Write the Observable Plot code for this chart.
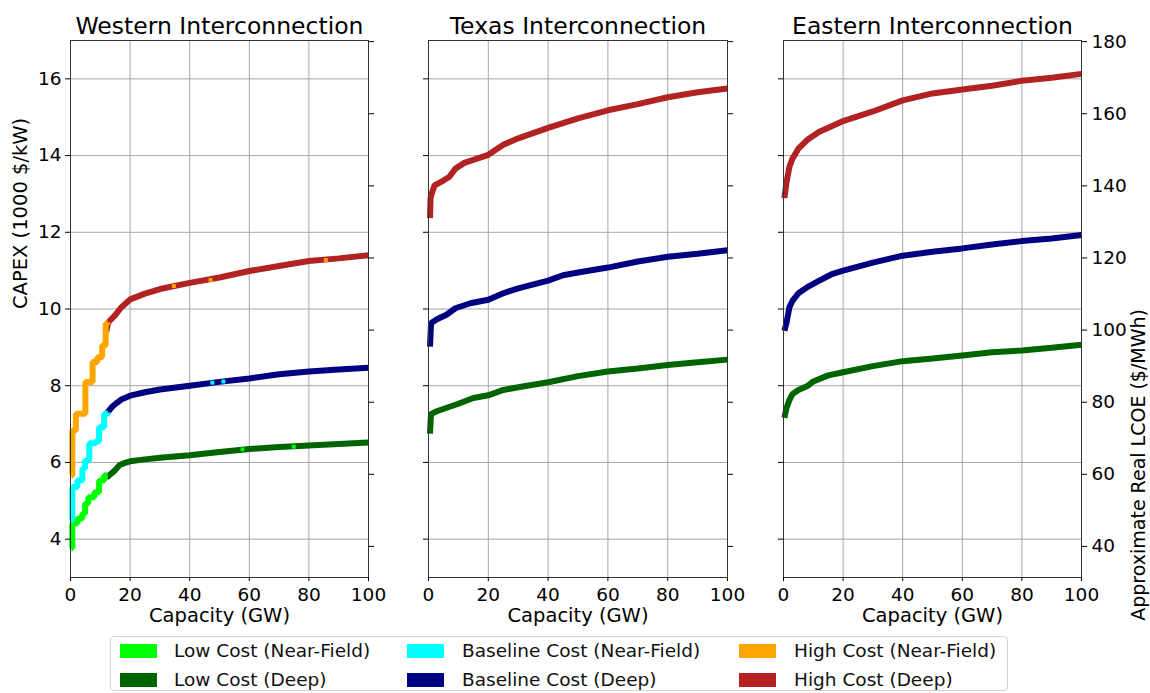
<!DOCTYPE html>
<html>
<head>
<meta charset="utf-8">
<script src="https://cdn.jsdelivr.net/npm/d3@7"></script>
<script src="https://cdn.jsdelivr.net/npm/@observablehq/plot@0.6"></script>
<style>
  html, body { margin: 0; padding: 0; background: #fff; }
  body { width: 1150px; height: 693px; position: relative; overflow: hidden; font-family: "DejaVu Sans", sans-serif; color: #000; }
  .panel { position: absolute; top: 0; }
  #legend { position: absolute; left: 110px; top: 636px; width: 898px; height: 55px; box-sizing: border-box; border: 1px solid #d4d4d4; border-radius: 4px; }
  .sw { position: absolute; width: 37px; height: 14px; }
  .lt { position: absolute; font-size: 18.5px; line-height: 22px; white-space: nowrap; color: #111; }
</style>
</head>
<body>
<div id="p0" class="panel"></div>
<div id="p1" class="panel"></div>
<div id="p2" class="panel"></div>
<div id="legend"></div>
<script>
// ---------------- DATA ----------------
const panelTitles = ["Western Interconnection", "Texas Interconnection", "Eastern Interconnection"];
const xTicks = [0, 20, 40, 60, 80, 100];
const capexTicks = [4, 6, 8, 10, 12, 14, 16];
const lcoeTicks = [40, 60, 80, 100, 120, 140, 160, 180];

const legendLabels = ["Low Cost (Near-Field)", "Low Cost (Deep)", "Baseline Cost (Near-Field)", "Baseline Cost (Deep)", "High Cost (Near-Field)", "High Cost (Deep)"];
const legendColors = ["#00ff00", "#006400", "#00ffff", "#000080", "#ffa500", "#b22222"];

// Western Interconnection: [capacity GW, CAPEX 1000 $/kW]
const westLowNear = [[0.3,3.76],[0.6,4.41],[2.3,4.54],[4,4.67],[4.9,4.93],[6,5.09],[8,5.22],[9.6,5.53],[11.3,5.66],[12.5,5.66]];
const westLowDeep = [[12,5.6],[13.5,5.7],[15,5.8],[16.5,5.93],[18,5.98],[20,6.03],[25,6.08],[30,6.12],[40,6.19],[50,6.27],[60,6.35],[70,6.4],[80,6.44],[90,6.48],[100,6.52]];
const westBaseNear = [[0.3,4.49],[0.6,5.36],[2.3,5.53],[4,5.84],[4.9,6.05],[6.3,6.5],[8.5,6.55],[9.6,6.92],[11.3,7.27],[12.5,7.3]];
const westBaseDeep = [[12,7.25],[13,7.36],[14,7.45],[15,7.52],[17,7.64],[20,7.74],[25,7.83],[30,7.9],[40,8.0],[50,8.1],[60,8.19],[70,8.3],[80,8.37],[90,8.42],[100,8.47]];
const westHighNear = [[0.3,5.66],[0.6,6.83],[1.8,7.27],[5,8.1],[7.4,8.62],[9,8.74],[10.6,9.05],[11.8,9.62],[12.5,9.65]];
const westHighDeep = [[12,9.4],[12.5,9.6],[13,9.68],[15,9.84],[17,10.04],[20,10.25],[25,10.4],[30,10.52],[40,10.68],[50,10.82],[60,10.99],[70,11.12],[80,11.25],[90,11.32],[100,11.4]];
// near-field specks inside the deep curves (Western): [GW, CAPEX, colour index]
const westSpecks = [[34.7,10.6,4],[47,10.76,4],[85.7,11.28,4],[47.6,8.08,2],[51.3,8.11,2],[57.7,6.34,0],[74.9,6.41,0]];

// Texas Interconnection
const texLowDeep = [[0.5,6.75],[0.8,7.2],[1,7.27],[3,7.34],[10,7.53],[15,7.68],[20,7.75],[25,7.89],[30,7.96],[40,8.09],[50,8.25],[60,8.37],[70,8.45],[80,8.54],[90,8.61],[100,8.68]];
const texBaseDeep = [[0.5,9.02],[0.8,9.55],[1,9.64],[3,9.74],[6,9.85],[9,10.02],[14,10.15],[20,10.24],[25,10.41],[30,10.54],[40,10.74],[45,10.88],[50,10.95],[60,11.08],[70,11.24],[80,11.36],[90,11.44],[100,11.53]];
const texHighDeep = [[0.5,12.37],[0.7,12.89],[1,12.99],[2,13.22],[5,13.35],[7,13.45],[9,13.66],[12,13.81],[20,14.02],[25,14.28],[30,14.45],[40,14.72],[50,14.97],[60,15.18],[70,15.34],[80,15.52],[90,15.65],[100,15.75]];

// Eastern Interconnection
const eastLowDeep = [[0.3,7.16],[1,7.42],[2,7.63],[3,7.78],[5,7.89],[8,7.99],[10,8.11],[15,8.27],[20,8.35],[30,8.51],[40,8.64],[50,8.71],[60,8.79],[70,8.87],[80,8.92],[90,8.99],[100,9.07]];
const eastBaseDeep = [[0.3,9.43],[1,9.64],[2,10.05],[3,10.21],[5,10.41],[8,10.57],[12,10.74],[16,10.9],[20,11.0],[30,11.21],[40,11.39],[50,11.49],[60,11.58],[70,11.68],[80,11.77],[90,11.84],[100,11.93]];
const eastHighDeep = [[0.3,12.89],[1,13.3],[2,13.71],[3,13.92],[5,14.18],[8,14.41],[12,14.62],[16,14.76],[20,14.9],[30,15.15],[40,15.44],[50,15.62],[60,15.72],[70,15.82],[80,15.95],[90,16.03],[100,16.13]];

// approximate relation between CAPEX and LCOE axis (secondary axis)
const lcoeBaseCapex = 3.81, lcoeSlope = 10.638;
const capexOfLcoe = v => lcoeBaseCapex + (v - 40) / lcoeSlope;
const lcoeOfCapex = c => 40 + (c - lcoeBaseCapex) * lcoeSlope;

// ---------------- DRAW ----------------
const FONT = "DejaVu Sans";
const layouts = [
  {left: 0,   width: 380, ml: 70, mr: 12},
  {left: 380, width: 380, ml: 48, mr: 33},
  {left: 760, width: 390, ml: 23, mr: 69}
];
const panelSeries = [
  [[westLowDeep,1,false],[westBaseDeep,3,false],[westHighDeep,5,false],[westLowNear,0,true],[westBaseNear,2,true],[westHighNear,4,true]],
  [[texLowDeep,1,false],[texBaseDeep,3,false],[texHighDeep,5,false]],
  [[eastLowDeep,1,false],[eastBaseDeep,3,false],[eastHighDeep,5,false]]
];
const panelSpecks = [westSpecks, [], []];

panelTitles.forEach((title, i) => {
  const L = layouts[i];
  const marks = [
    Plot.gridX([20, 40, 60, 80], {stroke: "#a6a6a6", strokeOpacity: 1, strokeWidth: 1}),
    Plot.gridY(capexTicks, {stroke: "#a6a6a6", strokeOpacity: 1, strokeWidth: 1})
  ];
  for (const [data, ci, near] of panelSeries[i]) {
    marks.push(Plot.line(data, {x: d => d[0], y: d => d[1], stroke: legendColors[ci], strokeWidth: 6,
      curve: near ? "step-after" : "linear", strokeLinejoin: "miter", strokeLinecap: "butt"}));
  }
  if (panelSpecks[i].length) {
    marks.push(Plot.dot(panelSpecks[i], {x: d => d[0], y: d => d[1], fill: d => legendColors[d[2]], symbol: "square", r: 2.2, stroke: null}));
  }
  marks.push(Plot.frame({stroke: "#333", strokeWidth: 1}));
  marks.push(Plot.axisX({ticks: xTicks, tickSize: 4, tickPadding: 6, label: null, fontSize: 18.5, fontFamily: FONT}));
  marks.push(Plot.axisY({ticks: capexTicks, tickSize: 5, tickPadding: 4, label: null, fontSize: 18.5, fontFamily: FONT,
    tickFormat: i === 0 ? (d => String(d)) : (() => "")}));
  marks.push(Plot.axisY(lcoeTicks.map(capexOfLcoe), {anchor: "right", tickSize: 5, tickPadding: 5, label: null, fontSize: 18.5, fontFamily: FONT,
    tickFormat: i === 2 ? (d => String(Math.round(lcoeOfCapex(d)))) : (() => "")}));
  marks.push(Plot.text([title], {frameAnchor: "top", text: d => d, lineAnchor: "bottom", dy: -7, fontSize: 23.5, fontFamily: FONT}));
  marks.push(Plot.text(["Capacity (GW)"], {frameAnchor: "bottom", text: d => d, lineAnchor: "middle", dy: 38, fontSize: 19.5, fontFamily: FONT}));
  if (i === 0) marks.push(Plot.text(["CAPEX (1000 $/kW)"], {frameAnchor: "left", text: d => d, rotate: -90, dx: -50, fontSize: 19.5, fontFamily: FONT}));
  if (i === 2) marks.push(Plot.text(["Approximate Real LCOE ($/MWh)"], {frameAnchor: "right", text: d => d, rotate: -90, dx: 57, fontSize: 19, fontFamily: FONT}));

  const svg = Plot.plot({
    width: L.width, height: 632,
    marginLeft: L.ml, marginRight: L.mr, marginTop: 40, marginBottom: 55,
    x: {domain: [0, 100]},
    y: {domain: [3, 17]},
    style: {fontFamily: FONT, fontSize: "18.5px", color: "#000", background: "transparent", overflow: "visible"},
    marks
  });
  const host = document.getElementById("p" + i);
  host.style.left = L.left + "px";
  host.appendChild(svg);
});

// legend: 3 columns x 2 rows
const legend = document.getElementById("legend");
const colSw = [9, 296, 628], colTx = [63, 351, 683], rowY = [15, 44];
legendLabels.forEach((lab, k) => {
  const c = Math.floor(k / 2), r = k % 2;
  const sw = document.createElement("div");
  sw.className = "sw";
  sw.style.left = colSw[c] + "px";
  sw.style.top = (rowY[r] - 7 - 1) + "px";
  sw.style.background = legendColors[k];
  legend.appendChild(sw);
  const tx = document.createElement("div");
  tx.className = "lt";
  tx.style.left = colTx[c] + "px";
  tx.style.top = (rowY[r] - 11 - 1) + "px";
  tx.textContent = lab;
  legend.appendChild(tx);
});
</script>
</body>
</html>
